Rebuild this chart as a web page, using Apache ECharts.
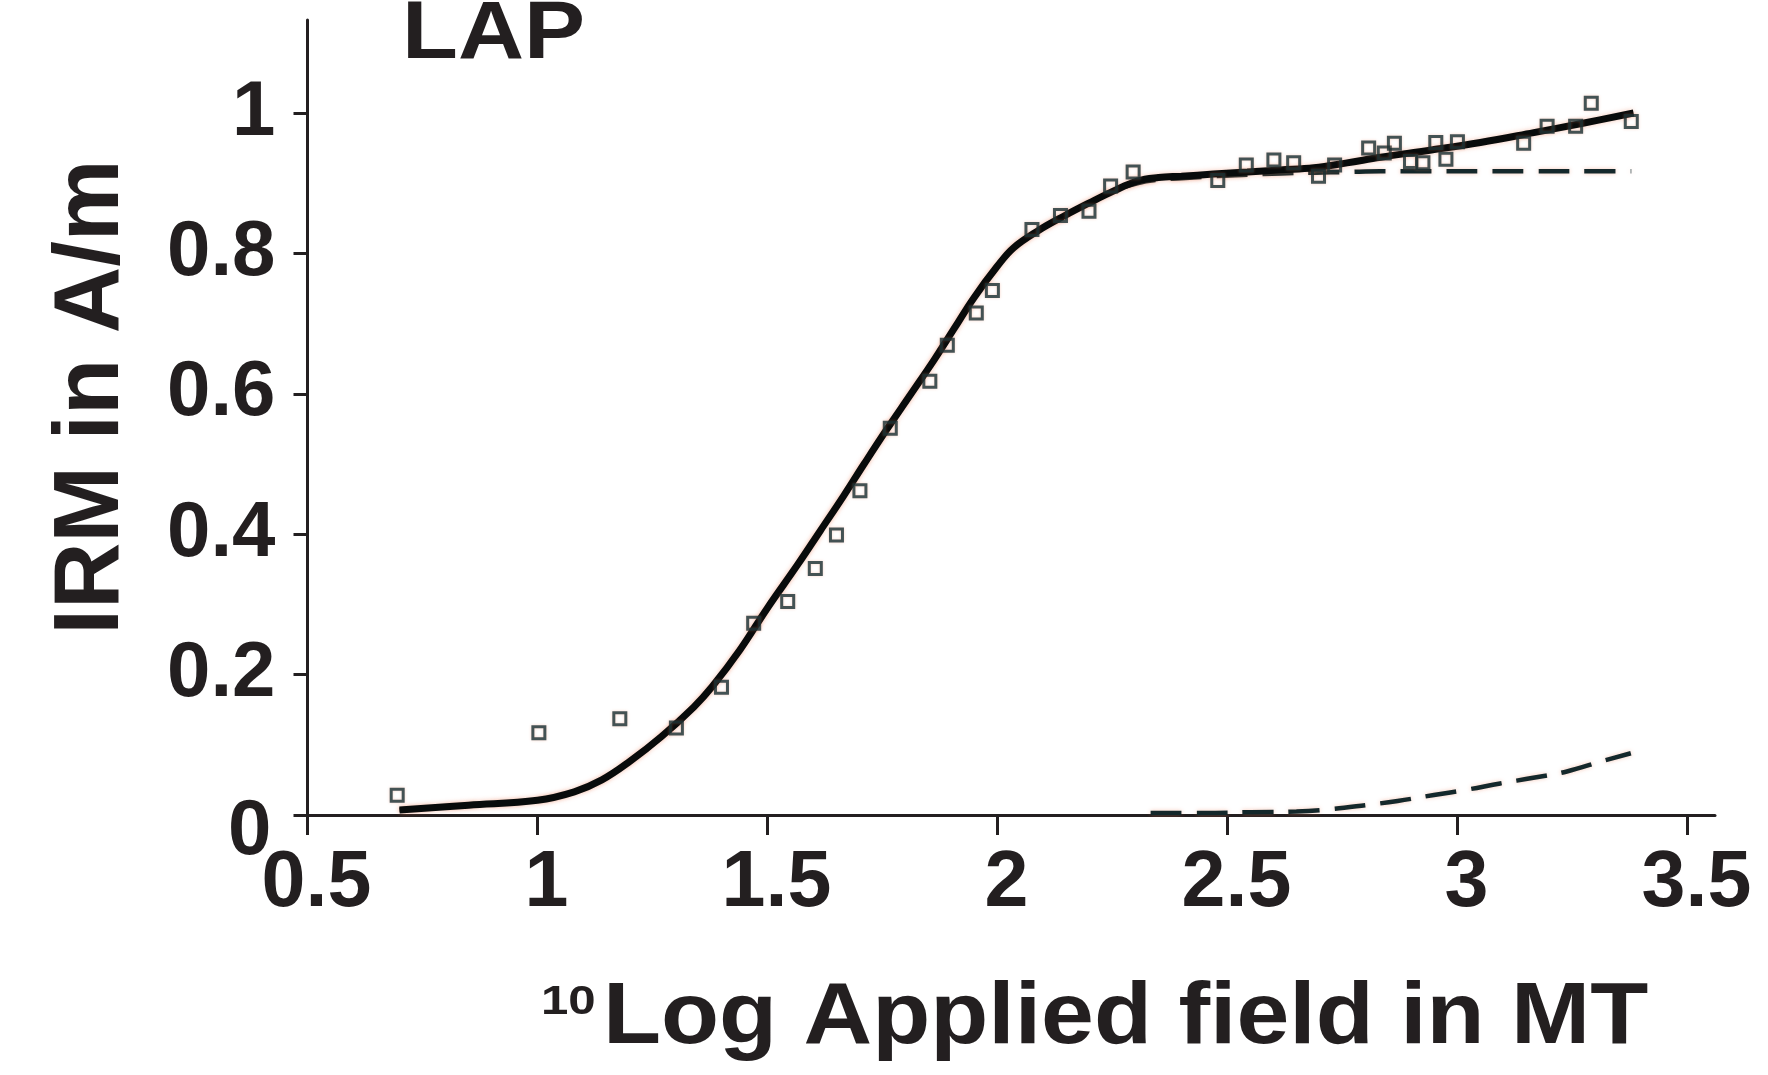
<!DOCTYPE html>
<html>
<head>
<meta charset="utf-8">
<script src="https://cdn.jsdelivr.net/npm/echarts@6/dist/echarts.min.js"></script>
<style>
  html, body { margin: 0; padding: 0; background: #ffffff; }
  #chart { width: 1768px; height: 1075px; }
</style>
</head>
<body>
<div id="chart"></div>
<script>
// IRM acquisition measurements (log10 of applied field, IRM in A/m)
const fieldLog = [0.695, 1.003, 1.179, 1.302, 1.400, 1.470, 1.544, 1.604, 1.650, 1.701,
                  1.767, 1.853, 1.891, 1.954, 1.989, 2.075, 2.137, 2.199, 2.246, 2.295,
                  2.479, 2.541, 2.601, 2.644, 2.698, 2.733, 2.807, 2.841, 2.863, 2.898,
                  2.925, 2.953, 2.975, 3.000, 3.144, 3.195, 3.257, 3.291, 3.378];
const irmValues = [0.028, 0.117, 0.137, 0.124, 0.182, 0.273, 0.304, 0.351, 0.399, 0.462,
                   0.551, 0.618, 0.669, 0.715, 0.747, 0.834, 0.854, 0.860, 0.896, 0.916,
                   0.904, 0.926, 0.933, 0.929, 0.910, 0.926, 0.950, 0.943, 0.957, 0.931,
                   0.929, 0.958, 0.934, 0.959, 0.957, 0.981, 0.981, 1.014, 0.988];

// Fitted total curve
const fitLog = [0.70, 0.85, 1.00, 1.08, 1.14, 1.20, 1.27, 1.34, 1.38, 1.44,
                1.50, 1.565, 1.615, 1.666, 1.71, 1.757, 1.81, 1.862, 1.905, 1.949,
                2.00, 2.035, 2.09, 2.144, 2.20, 2.253, 2.304, 2.35, 2.40, 2.47,
                2.543, 2.615, 2.688, 2.76, 2.833, 2.94, 3.05, 3.166, 3.27, 3.383];
const fitIrm = [0.007, 0.014, 0.021, 0.033, 0.050, 0.076, 0.112, 0.154, 0.183, 0.235,
                0.295, 0.356, 0.405, 0.455, 0.500, 0.547, 0.598, 0.648, 0.692, 0.737,
                0.782, 0.808, 0.833, 0.853, 0.872, 0.889, 0.903, 0.908, 0.910, 0.913,
                0.916, 0.919, 0.922, 0.929, 0.937, 0.947, 0.958, 0.972, 0.985, 1.000];

// Low-coercivity component
const comp1Log = [0.70, 0.85, 1.00, 1.08, 1.14, 1.20, 1.27, 1.34, 1.38, 1.44,
                  1.50, 1.565, 1.615, 1.666, 1.71, 1.757, 1.81, 1.862, 1.905, 1.949,
                  2.00, 2.035, 2.09, 2.144, 2.20, 2.253, 2.304, 2.35, 2.40, 2.47,
                  2.543, 2.615, 2.688, 2.76, 2.833, 2.94, 3.05, 3.166, 3.27, 3.378];
const comp1Irm = [0.007, 0.014, 0.021, 0.033, 0.050, 0.076, 0.112, 0.154, 0.183, 0.235,
                  0.295, 0.356, 0.405, 0.455, 0.500, 0.547, 0.598, 0.648, 0.692, 0.737,
                  0.782, 0.808, 0.833, 0.853, 0.872, 0.889, 0.900, 0.905, 0.907, 0.910,
                  0.912, 0.914, 0.915, 0.916, 0.917, 0.917, 0.917, 0.917, 0.917, 0.917];

// High-coercivity component
const comp2Log = [2.333, 2.45, 2.55, 2.65, 2.72, 2.80, 2.87, 2.949, 3.02, 3.093,
                  3.165, 3.238, 3.311, 3.377];
const comp2Irm = [0.003, 0.003, 0.004, 0.005, 0.008, 0.014, 0.020, 0.0285, 0.036, 0.045,
                  0.053, 0.062, 0.076, 0.088];

const xTicks = [0.5, 1, 1.5, 2, 2.5, 3, 3.5];
const yTicks = [0, 0.2, 0.4, 0.6, 0.8, 1];

const ink = '#231f20';
const fontFamily = '"Liberation Sans", Arial, Helvetica, sans-serif';
const halo = 'rgba(235, 120, 80, 0.4)';

const pairs = (xs, ys) => xs.map((x, i) => [x, ys[i]]);

const chart = echarts.init(document.getElementById('chart'), null, { renderer: 'canvas' });

const dashStyle = {
  color: '#14282b',
  width: 4.5,
  type: [31, 15],
  shadowColor: halo,
  shadowBlur: 4
};

chart.setOption({
  animation: false,
  backgroundColor: '#ffffff',
  grid: { left: 307.5, right: 53, top: 20, bottom: 260, containLabel: false },
  xAxis: {
    type: 'value',
    min: 0.5,
    max: 3.56,
    axisLine: { show: true, onZero: false, lineStyle: { color: ink, width: 3 } },
    axisTick: { show: true, length: 20, lineStyle: { color: ink, width: 3 }, customValues: xTicks },
    axisLabel: {
      customValues: xTicks,
      margin: 30,
      padding: [0, 0, 0, 18],
      color: ink,
      fontFamily: fontFamily,
      fontWeight: 'bold',
      fontSize: 79,
      formatter: v => String(v)
    },
    splitLine: { show: false }
  },
  yAxis: {
    type: 'value',
    min: 0,
    max: 1.1325,
    axisLine: { show: true, onZero: false, lineStyle: { color: ink, width: 3 } },
    axisTick: { show: true, length: 14, lineStyle: { color: ink, width: 3 }, customValues: yTicks },
    axisLabel: {
      customValues: yTicks,
      margin: 32,
      color: ink,
      fontFamily: fontFamily,
      fontWeight: 'bold',
      fontSize: 78,
      formatter: v => (v === 0 ? '{zero|0}' : String(v)),
      rich: {
        zero: {
          color: ink,
          fontFamily: fontFamily,
          fontWeight: 'bold',
          fontSize: 78,
          padding: [34, 4, 0, 0]
        }
      }
    },
    splitLine: { show: false }
  },
  series: [
    {
      name: 'component 1',
      type: 'line',
      data: pairs(comp1Log, comp1Irm),
      showSymbol: false,
      smooth: 0.4,
      lineStyle: dashStyle,
      z: 2
    },
    {
      name: 'component 2',
      type: 'line',
      data: pairs(comp2Log, comp2Irm),
      showSymbol: false,
      smooth: 0.4,
      lineStyle: dashStyle,
      z: 2
    },
    {
      name: 'fit',
      type: 'line',
      data: pairs(fitLog, fitIrm),
      showSymbol: false,
      smooth: 0.4,
      lineStyle: { color: '#080b0b', width: 7, shadowColor: halo, shadowBlur: 5 },
      z: 3
    },
    {
      name: 'IRM',
      type: 'scatter',
      data: pairs(fieldLog, irmValues),
      symbol: 'rect',
      symbolSize: 12,
      itemStyle: {
        color: 'rgba(255,255,255,0)',
        borderColor: '#172e32',
        borderWidth: 3,
        shadowColor: halo,
        shadowBlur: 3
      },
      z: 4
    }
  ],
  graphic: [
    {
      type: 'text',
      x: 402, y: 36,
      scaleX: 1.13,
      style: {
        text: 'LAP',
        fill: ink,
        font: 'bold 81px ' + fontFamily,
        align: 'left',
        verticalAlign: 'middle'
      }
    },
    {
      type: 'text',
      x: 93, y: 397,
      rotation: Math.PI / 2,
      style: {
        text: 'IRM in A/m',
        fill: ink,
        font: 'bold 92px ' + fontFamily,
        align: 'center',
        verticalAlign: 'middle'
      }
    },
    {
      type: 'text',
      x: 541, y: 1003,
      scaleX: 1.2,
      style: {
        text: '10',
        fill: ink,
        font: 'bold 41px ' + fontFamily,
        align: 'left',
        verticalAlign: 'middle'
      }
    },
    {
      type: 'text',
      x: 603, y: 1019,
      scaleX: 1.08,
      style: {
        text: 'Log Applied field in MT',
        fill: ink,
        font: 'bold 88px ' + fontFamily,
        align: 'left',
        verticalAlign: 'middle'
      }
    }
  ]
});
</script>
</body>
</html>
